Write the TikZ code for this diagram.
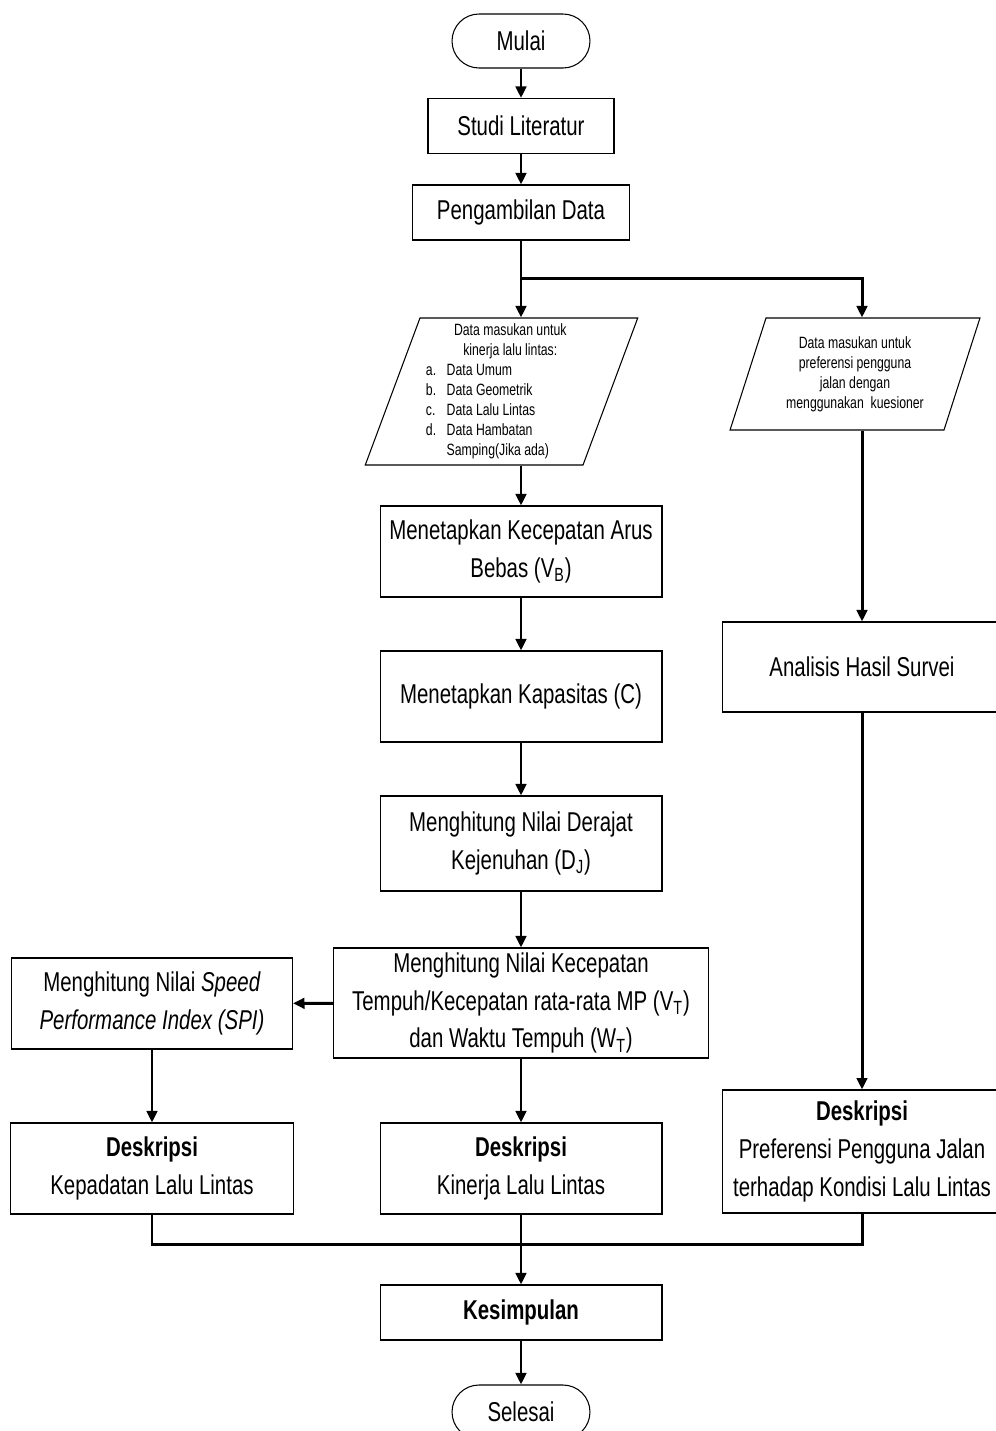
\documentclass[tikz,border=0pt]{standalone}
\usepackage{fontspec}
\setmainfont{Liberation Sans}[FakeStretch=0.75]
\usepackage{tikz}
\usetikzlibrary{arrows.meta,shapes.geometric}

\begin{document}
\begin{tikzpicture}[
    x=0.02cm,y=-0.02cm,
    block/.style={draw,line width=0.6pt,align=center,inner sep=2pt,
                  minimum width=5.64cm,minimum height=1.82cm,
                  font=\fontsize{15.5}{21.5}\selectfont},
    terminal/.style={block,rounded corners=0.54cm,
                     minimum width=2.76cm,minimum height=1.08cm},
    short/.style={block,minimum height=1.1cm},
    inout/.style={draw,line width=0.6pt,trapezium,trapezium left angle=70,
                  trapezium right angle=110,trapezium stretches=true,
                  inner sep=1pt,font=\fontsize{9.3}{11.3}\selectfont},
    line/.style={line width=1.7pt},
    arrow/.style={line,-{Triangle[length=2.3mm,width=2.1mm]}}
  ]
    \useasboundingbox (0,0) rectangle (996,1431);
    \node[terminal] (mulai) at (521,41) {Mulai};
    \node[short,minimum width=3.72cm] (studi) at (521,126) {Studi Literatur};
    \node[short,minimum width=4.34cm] (ambil) at (521,212.5) {Pengambilan Data};
    \coordinate (cabang) at (521,278);
    \node[inout,minimum width=5.46cm,minimum height=2.94cm] (input1) at (501.5,391.5)
      {\begin{tabular}{@{}l@{\hspace{6pt}}l@{}}
        \multicolumn{2}{c}{\hspace{10pt}Data masukan untuk}\\
        \multicolumn{2}{c}{\hspace{10pt}kinerja lalu lintas:}\\
        a. & Data Umum\\
        b. & Data Geometrik\\
        c. & Data Lalu Lintas\\
        d. & Data Hambatan\\
           & Samping(Jika ada)
       \end{tabular}};
    \node[inout,align=center,minimum width=5cm,minimum height=2.24cm] (input2) at (855,374)
      {Data masukan untuk\\ preferensi pengguna\\ jalan dengan\\ menggunakan\ \ kuesioner};
    \node[block] (vb) at (521,551.5) {Menetapkan Kecepatan Arus\\ Bebas (V\textsubscript{B})};
    \node[block] (kap) at (521,696.5) {Menetapkan Kapasitas (C)};
    \node[block,minimum height=1.9cm] (dj) at (521,843.5)
      {Menghitung Nilai Derajat\\ Kejenuhan (D\textsubscript{J})};
    \node[block,minimum width=7.5cm,minimum height=2.2cm] (vt) at (521,1003)
      {Menghitung Nilai Kecepatan\\ Tempuh/Kecepatan rata-rata MP (V\textsubscript{T})\\
       dan Waktu Tempuh (W\textsubscript{T})};
    \node[block,minimum width=5.62cm] (spi) at (152,1003.5)
      {Menghitung Nilai \textit{Speed}\\ \textit{Performance Index (SPI)}};
    \node[block,minimum width=5.66cm] (deskA) at (152,1168.5)
      {\textbf{Deskripsi}\\ Kepadatan Lalu Lintas};
    \node[block] (deskB) at (521,1168.5) {\textbf{Deskripsi}\\ Kinerja Lalu Lintas};
    \node[block,minimum width=5.6cm,minimum height=1.8cm] (analisis) at (862,667)
      {Analisis Hasil Survei};
    \node[block,minimum width=5.6cm,minimum height=2.46cm] (deskC) at (862,1151.5)
      {\textbf{Deskripsi}\\ Preferensi Pengguna Jalan\\ terhadap Kondisi Lalu Lintas};
    \coordinate (gabung) at (521,1244);
    \node[short] (simpul) at (521,1312.5) {\textbf{Kesimpulan}};
    \node[terminal] (selesai) at (521,1412) {Selesai};
    % alur utama
    \draw[arrow] (mulai) -- (studi);
    \draw[arrow] (studi) -- (ambil);
    \draw[line] (ambil) -- (cabang);
    \draw[arrow] (cabang) -- (cabang |- input1.north);
    \draw[arrow] (cabang) -| (analisis.north |- input2.north);
    \draw[arrow] (vb.north |- input1.south) -- (vb);
    \draw[arrow] (vb) -- (kap);
    \draw[arrow] (kap) -- (dj);
    \draw[arrow] (dj) -- (vt);
    \draw[arrow] (vt) -- (spi);
    \draw[arrow] (spi) -- (deskA);
    \draw[arrow] (vt) -- (deskB);
    % alur kuesioner
    \draw[arrow] (analisis.north |- input2.south) -- (analisis);
    \draw[arrow] (analisis) -- (deskC);
    % penggabungan
    \draw[line] (deskA) |- (gabung) -| (deskC);
    \draw[arrow] (deskB) -- (simpul);
    \draw[arrow] (simpul) -- (selesai);
  \end{tikzpicture}
\end{document}
